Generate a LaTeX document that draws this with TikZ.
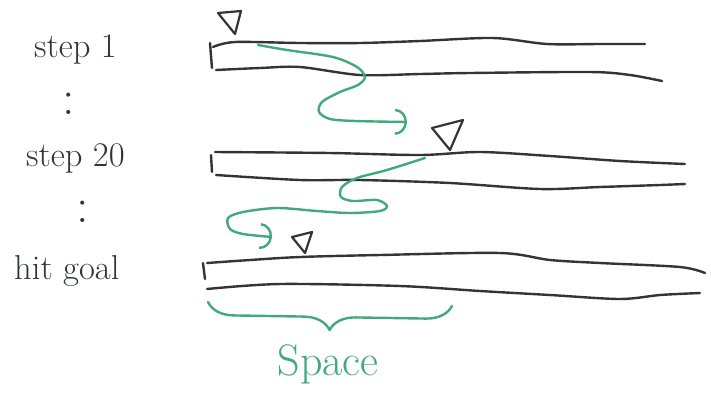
\documentclass[tikz,border=0pt]{standalone}
\usetikzlibrary{arrows.meta,decorations.pathreplacing}
\definecolor{pencil}{RGB}{50,52,58}
\definecolor{marker}{RGB}{64,170,122}
\tikzset{
  every picture/.style={line width=1.2pt, line cap=round, line join=round},
  sRail/.style={draw=pencil},
  sAgent/.style={draw=pencil, line width=1.1pt},
  sMove/.style={draw=marker, -{Arc Barb[length=6pt, width=13pt]}},
  sBrace/.style={draw=marker, decorate,
                 decoration={brace, mirror, amplitude=13pt}},
  sLabel/.style={font=\LARGE, text=pencil, inner sep=0pt},
  sDots/.style={font=\Huge, text=pencil, inner sep=0pt},
}

\begin{document}
\begin{tikzpicture}[x=0.5pt, y=-0.5pt]
  \useasboundingbox (0,0) rectangle (711,392);
  % labels on the left
  \node[sLabel, anchor=base west] (l1)  at (33,57)  {step 1};
  \node[sDots] (d1) at (69,104) {:};
  \node[sLabel, anchor=base west] (l20) at (25,166) {step 20};
  \node[sDots] (d2) at (83,212) {:};
  \node[sLabel, anchor=base west] (lG)  at (13,279) {hit goal};
  % step 1 strip
  \draw[sRail] (210,43) -- (212,68);
  \draw[sRail] plot[smooth] coordinates {(213,47) (235,42) (300,43) (360,43)
        (420,41) (493,38) (547,44) (600,44) (645,44)};
  \draw[sRail] plot[smooth] coordinates {(216,70) (260,68) (300,67) (360,75)
        (420,74) (470,73) (590,72) (630,75) (662,81)};
  % step 20 strip
  \draw[sRail] (211,155) -- (212,172);
  \draw[sRail] plot[smooth] coordinates {(215,152) (330,153) (420,155)
        (480,152) (550,156) (620,161) (685,164)};
  \draw[sRail] plot[smooth] coordinates {(216,175) (300,180) (360,180)
        (450,183) (540,189) (600,187) (660,185) (685,184)};
  % goal strip
  \draw[sRail] (203,263) -- (205,279);
  \draw[sRail] plot[smooth] coordinates {(207,263) (250,260) (300,257)
        (380,255) (500,253) (550,260) (600,263) (680,267) (705,273)};
  \draw[sRail] plot[smooth] coordinates {(207,289) (280,284) (400,286)
        (480,291) (550,295) (620,299) (660,295) (700,293)};
  % agent markers
  \coordinate (a1)  at (235,34);
  \coordinate (a20) at (450,150);
  \coordinate (aG)  at (305,253);
  \draw[sAgent] (a1)  -- (218,13)  -- (241,11)  -- cycle;
  \draw[sAgent] (a20) -- (432,128) -- (463,120) -- cycle;
  \draw[sAgent] (aG)  -- (292,237) -- (312,232) -- cycle;
  % moves between the steps
  \draw[sMove] plot[smooth] coordinates {(258,45) (287,50) (333,57) (357,67)
        (365,77) (358,85) (340,92) (322,102) (319,112) (330,119) (355,121)
        (407,122)};
  \draw[sMove] plot[smooth] coordinates {(425,158) (387,170) (357,178)
        (342,187) (341,197) (353,201) (377,200) (387,206) (380,211)
        (350,213) (317,211) (277,208) (243,212) (228,218) (230,229)
        (243,234) (272,237)};
  % extent of the space
  \coordinate (sL) at (208,302);
  \coordinate (sR) at (452,306);
  \draw[sBrace] (sL) -- (sR);
  \node[font=\fontsize{22}{26}\selectfont, text=marker, inner sep=0pt,
        anchor=base] (sp) at (328,375) {Space};
\end{tikzpicture}
\end{document}
